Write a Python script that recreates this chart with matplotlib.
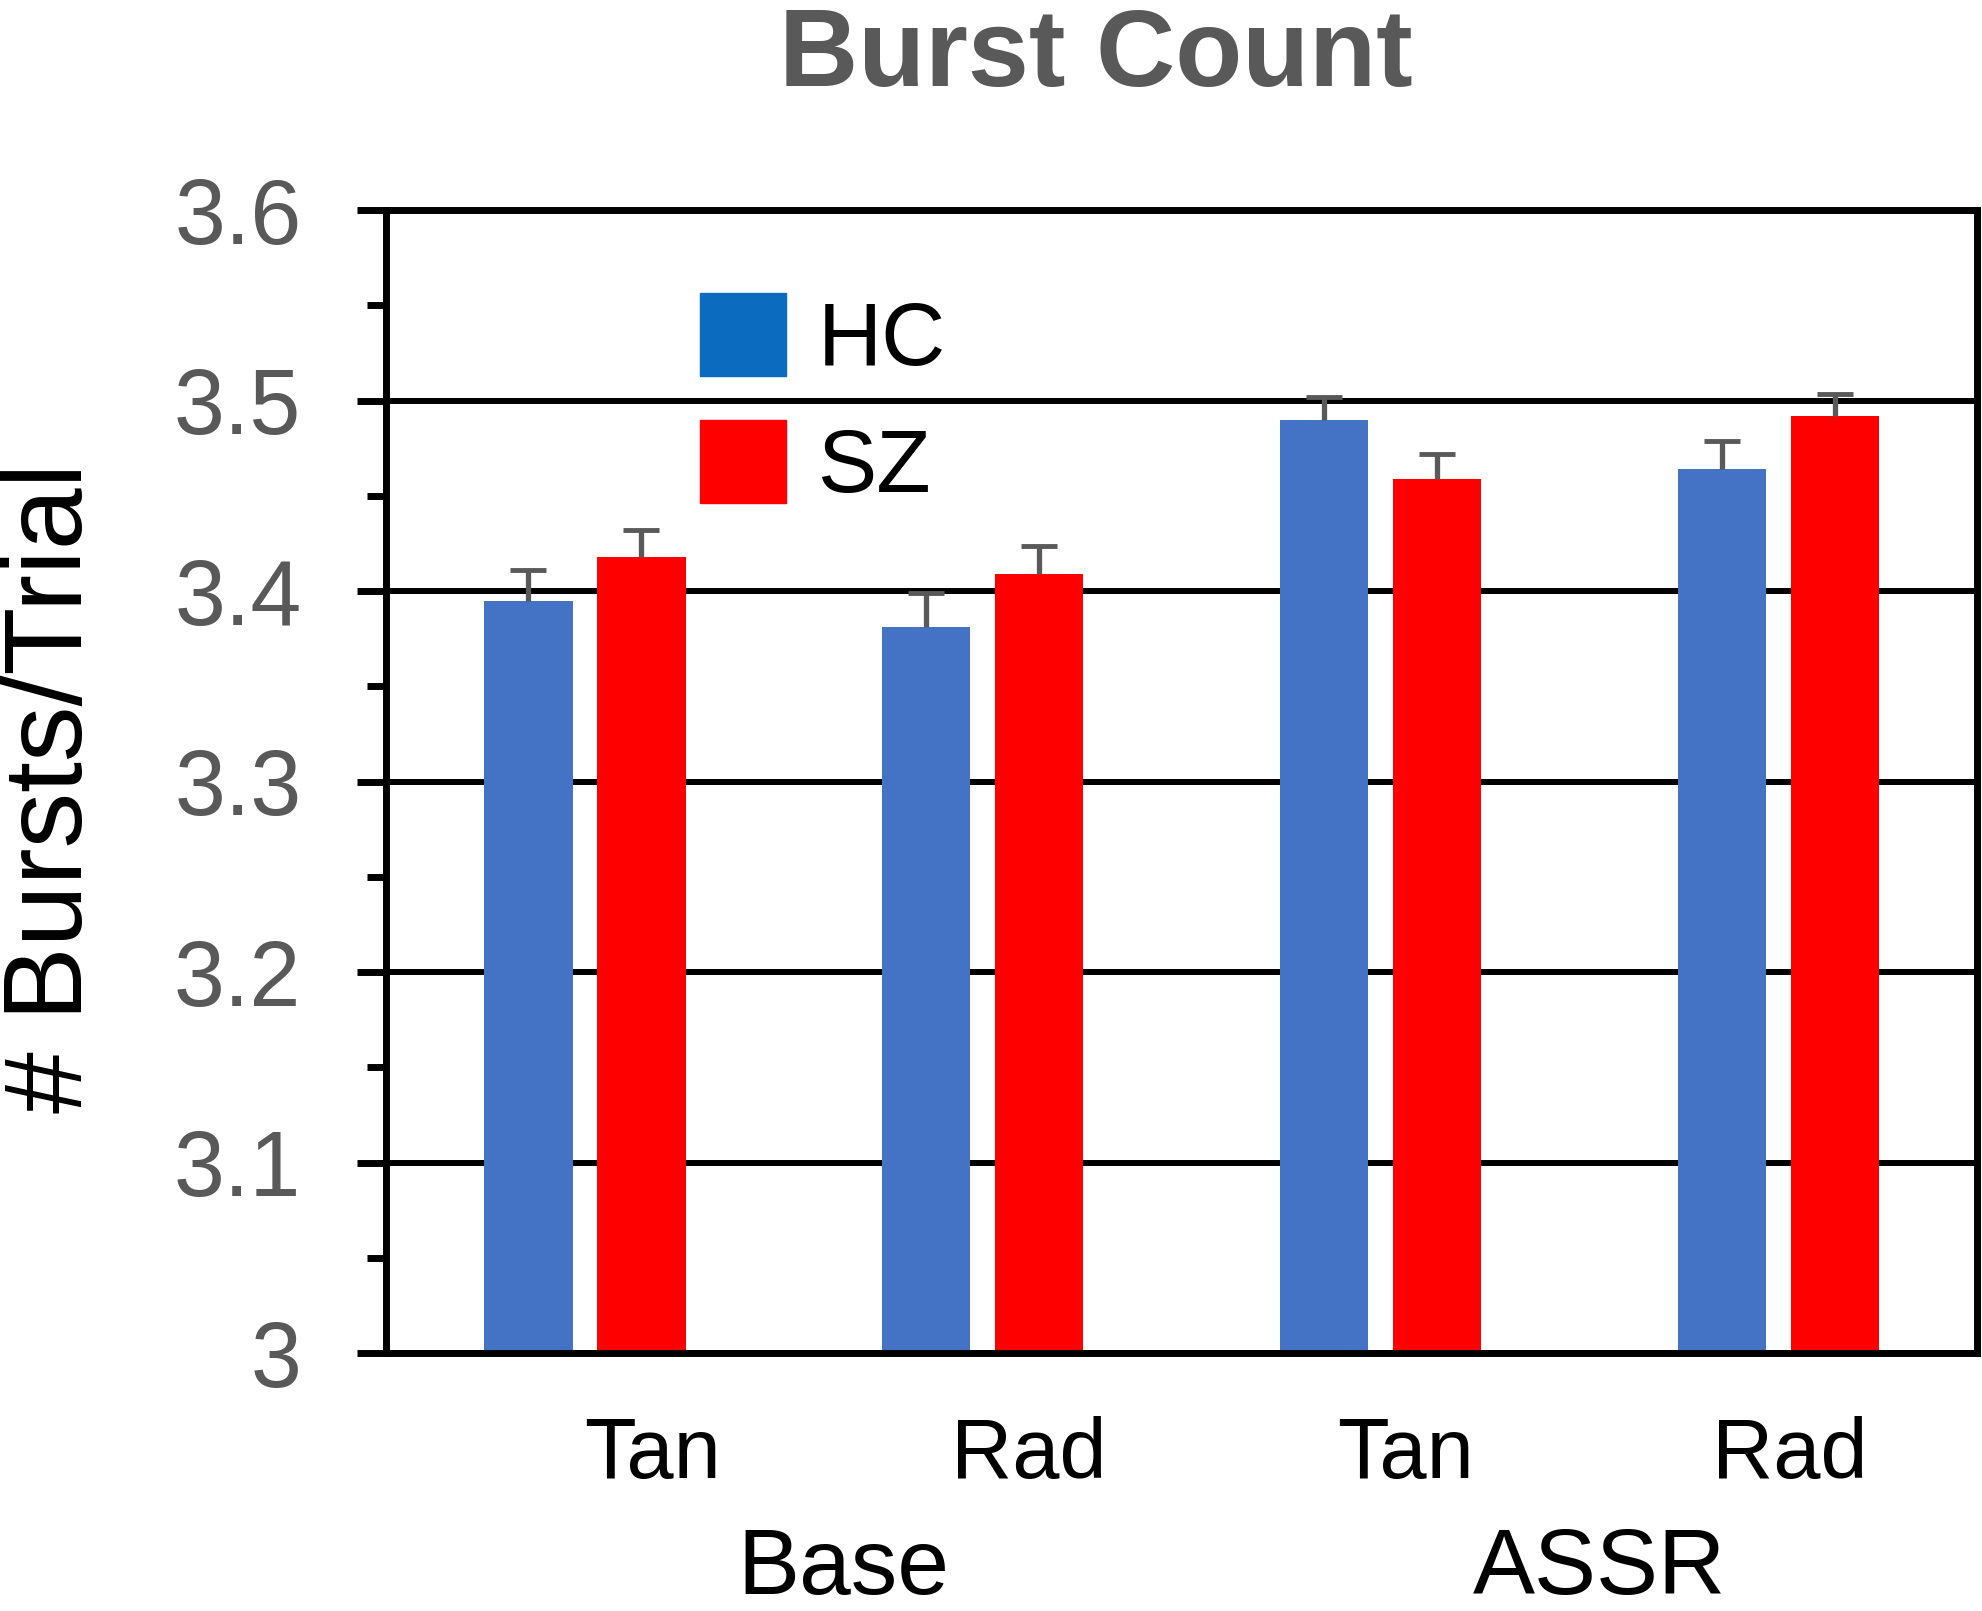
import numpy as np
import matplotlib
matplotlib.use('Agg')
import matplotlib.pyplot as plt
import matplotlib.transforms as mtransforms
from matplotlib.patches import Patch
from matplotlib.ticker import MultipleLocator, FuncFormatter

plt.rcParams['font.family'] = ['Liberation Sans', 'DejaVu Sans']

# data
conditions = ['Tan', 'Rad', 'Tan', 'Rad']
groups = ['Base', 'ASSR']
hc_mean = [3.395, 3.381, 3.490, 3.464]
hc_sem = [0.016, 0.018, 0.012, 0.015]
sz_mean = [3.418, 3.409, 3.459, 3.492]
sz_sem = [0.014, 0.0145, 0.013, 0.0115]

hc_color = '#4472C4'
sz_color = '#FF0000'
err_color = '#595959'

fig = plt.figure(figsize=(19.83, 16.11), dpi=100)
ax = fig.add_axes([0.1947, 0.1601, 0.8023, 0.7095])

x = np.arange(len(conditions))
w = 0.222
off = 0.142
ax.bar(x - off, hc_mean, w, color=hc_color, zorder=2)
ax.bar(x + off, sz_mean, w, color=sz_color, zorder=2)
for xs, m, e in [(x - off, hc_mean, hc_sem), (x + off, sz_mean, sz_sem)]:
    eb = ax.errorbar(xs, m, yerr=[np.zeros(len(x)), e], fmt='none',
                     ecolor=err_color, elinewidth=3.8, capsize=13,
                     capthick=3.5, zorder=3)
    # only the upper cap, like the reference
    eb[1][0].set_visible(False)

ax.set_xlim(-0.5, 3.5)
ax.set_ylim(3.0, 3.6)
ax.yaxis.set_major_locator(MultipleLocator(0.1))
ax.yaxis.set_minor_locator(MultipleLocator(0.05))
ax.yaxis.set_major_formatter(FuncFormatter(lambda v, p: f'{v:g}'))
ax.grid(axis='y', which='major', color='black', lw=4.3, zorder=0)
ax.set_axisbelow(True)
ax.tick_params(axis='y', which='major', direction='out', length=21, width=5,
               labelsize=66, labelcolor=err_color, pad=40)
ax.tick_params(axis='y', which='minor', direction='out', length=14, width=5)
ax.tick_params(axis='x', bottom=False, labelbottom=False)
for s in ax.spines.values():
    s.set_linewidth(5)

# two-level category labels
trans = mtransforms.blended_transform_factory(ax.transData, fig.transFigure)
cond_x = [0.169, 1.116, 2.064, 3.03]
for cx, lab in zip(cond_x, conditions):
    ax.text(cx, 0.0826, lab, transform=trans, ha='center', va='baseline',
            fontsize=61)
group_x = [0.65, 2.55]
for gx, lab in zip(group_x, groups):
    ax.text(gx, 1 - 1594 / 1611, lab, transform=trans, ha='center',
            va='baseline', fontsize=67)

fig.text(1096 / 1983, 1 - 86 / 1611, 'Burst Count', ha='center', va='baseline',
         fontsize=79, fontweight='bold', color=err_color)
fig.text(82 / 1983, 1 - 788 / 1611, '# Bursts/Trial', rotation=90,
         rotation_mode='anchor', ha='center', va='baseline', fontsize=80)

handles = [Patch(color='#0B6CBF', label='HC'), Patch(color=sz_color, label='SZ')]
ax.legend(handles=handles, loc='center left',
          bbox_to_anchor=(700 / 1983, 1 - 402 / 1611),
          bbox_transform=fig.transFigure, frameon=False, fontsize=64,
          handlelength=0.97, handleheight=1.06, handletextpad=0.36,
          labelspacing=0.40, borderpad=0, borderaxespad=0)

fig.savefig('out.png', dpi=100)
